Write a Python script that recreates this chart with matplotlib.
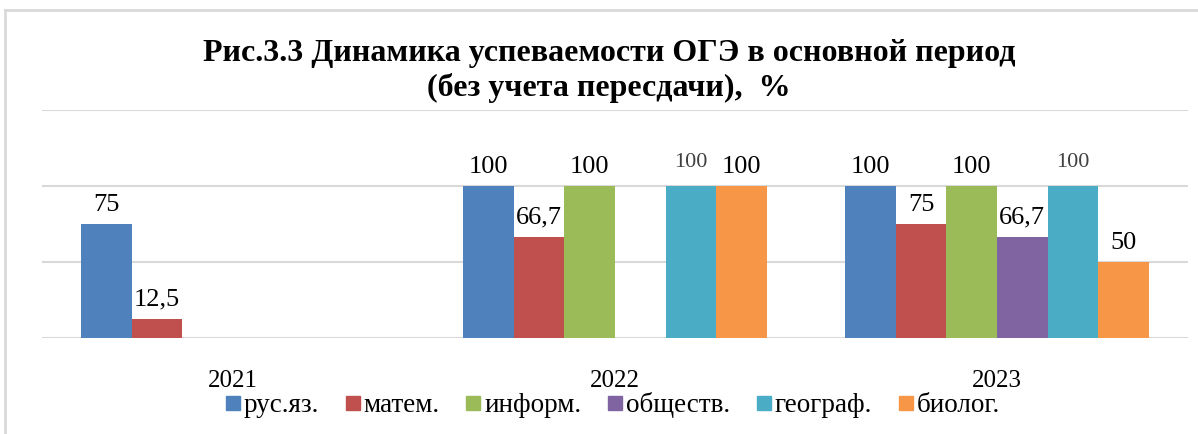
import numpy as np
import matplotlib
matplotlib.use("Agg")
import matplotlib.pyplot as plt
from matplotlib.lines import Line2D

# data
years = ["2021", "2022", "2023"]
subjects = ["рус.яз.", "матем.", "информ.", "обществ.", "географ.", "биолог."]
rus = [75, 100, 100]
mat = [12.5, 66.7, 75]
inf = [np.nan, 100, 100]
obsh = [np.nan, np.nan, 66.7]
geo = [np.nan, 100, 100]
bio = [np.nan, 100, 50]
series = [rus, mat, inf, obsh, geo, bio]
colors = ["#4F81BD", "#C0504D", "#9BBB59", "#8064A2", "#4BACC6", "#F79646"]

plt.rcParams['font.family'] = ['Liberation Serif', 'DejaVu Serif']

fig = plt.figure(figsize=(11.98, 4.34), dpi=100)
W, H = 1198, 434
ax = fig.add_axes([42 / W, (H - 338) / H, (1188 - 42) / W, (338 - 110) / H])

x = np.arange(len(years))
w = 0.1327
for i, (vals, col) in enumerate(zip(series, colors)):
    vals = np.array(vals, dtype=float)
    pos = x + (i - 2.5) * w
    ok = ~np.isnan(vals)
    ax.bar(pos[ok], vals[ok], width=w, color=col, zorder=3)
    for p, v in zip(pos[ok], vals[ok]):
        lab = f"{v:g}".replace(".", ",")
        if i == 4:
            # geography labels are smaller and grey in the original
            ax.annotate(lab, (p, v), xytext=(0, 10), textcoords="offset points",
                        ha="center", va="bottom", fontsize=16, color="#404040")
        else:
            ax.annotate(lab, (p, v), xytext=(0, 6), textcoords="offset points",
                        ha="center", va="bottom", fontsize=19, color="black")

ax.set_xlim(-0.5, 2.5)
ax.set_ylim(0, 150)
ax.set_yticks([0, 50, 100, 150])
ax.yaxis.grid(True, color="#D9D9D9", linewidth=1.5, zorder=0)
ax.tick_params(axis="y", left=False, labelleft=False)
ax.set_xticks(x)
ax.set_xticklabels(years, fontsize=18)
ax.tick_params(axis="x", length=0, pad=23)
for s in ax.spines.values():
    s.set_visible(False)

# title
fig.text(609 / W, 1 - 71 / H, "Рис.3.3 Динамика успеваемости ОГЭ в основной период\n(без учета пересдачи),  %",
         ha="center", va="center", fontsize=23, fontweight="bold", linespacing=1.25)

# legend
handles = [Line2D([], [], marker="s", linestyle="", markersize=10, color=c) for c in colors]
fig.legend(handles, subjects, loc="center", bbox_to_anchor=(613 / W, 1 - 405 / H),
           ncol=6, frameon=False, fontsize=19.5, handlelength=0.5, handletextpad=0.15,
           columnspacing=1.0, borderaxespad=0, borderpad=0)

# chart border
fig.add_artist(Line2D([5 / W, 5 / W], [0, 1 - 10 / H], color="#D9D9D9", linewidth=2))
fig.add_artist(Line2D([5 / W, 1], [1 - 10 / H, 1 - 10 / H], color="#D9D9D9", linewidth=2))

fig.savefig("out.png", dpi=100)
